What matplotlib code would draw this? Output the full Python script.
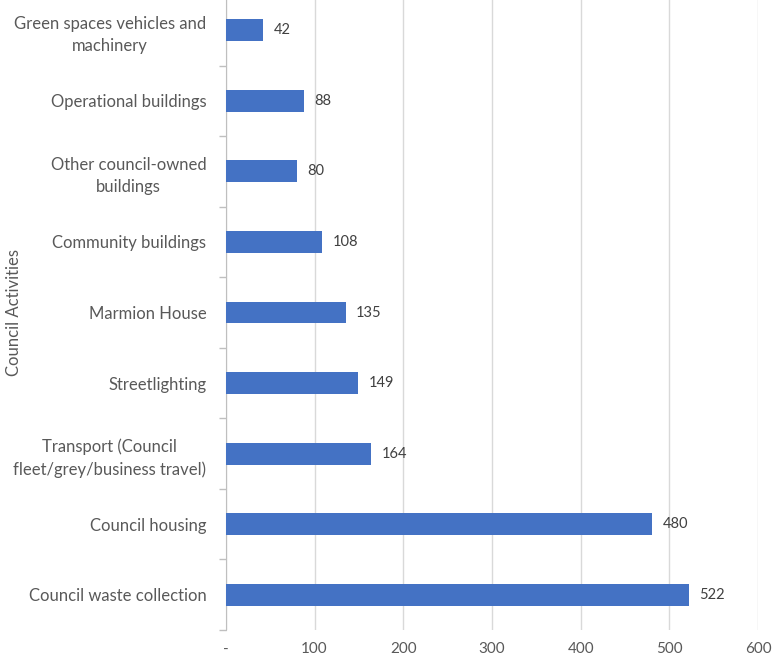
import matplotlib.pyplot as plt
import numpy as np

categories = [
    "Council waste collection",
    "Council housing",
    "Transport (Council\nfleet/grey/business travel)",
    "Streetlighting",
    "Marmion House",
    "Community buildings",
    "Other council-owned\nbuildings",
    "Operational buildings",
    "Green spaces vehicles and\nmachinery",
]
values = [522, 480, 164, 149, 135, 108, 80, 88, 42]
xticks = [0, 100, 200, 300, 400, 500, 600]
xtick_labels = ["-", "100", "200", "300", "400", "500", "600"]

plt.rcParams['font.family'] = ['Lato', 'DejaVu Sans']

fig = plt.figure(figsize=(7.76, 6.6), dpi=100)
ax = fig.add_axes([0.291, 0.0455, 0.686, 0.962])

y = np.arange(len(categories))
ax.barh(y, values, height=0.31, color='#4472C4', zorder=3)
for yi, v in zip(y, values):
    ax.text(v + 12, yi, str(v), va='center', ha='left', fontsize=10.5, color='#404040')

ax.set_xlim(0, 600)
ax.set_ylim(-0.5, len(categories) - 0.5)
ax.set_xticks(xticks)
ax.set_xticklabels(xtick_labels, fontsize=11, color='#595959')
ax.tick_params(axis='x', length=0, pad=9)
ax.grid(axis='x', color='#d9d9d9', linewidth=1, zorder=0)

ax.set_yticks(y)
ax.set_yticklabels(categories, fontsize=12, color='#595959',
                   multialignment='center', linespacing=1.45)
ax.tick_params(axis='y', length=0, pad=14)
ax.set_yticks(np.arange(-0.5, len(categories), 1), minor=True)
ax.tick_params(axis='y', which='minor', length=5, color='#bfbfbf', width=1)

for s in ['top', 'right', 'bottom']:
    ax.spines[s].set_visible(False)
ax.spines['left'].set_color('#bfbfbf')

ax.set_ylabel("Council Activities", fontsize=12, color='#595959')
ax.yaxis.set_label_coords(-0.382, 0.5)

fig.savefig("out.png", dpi=100)
